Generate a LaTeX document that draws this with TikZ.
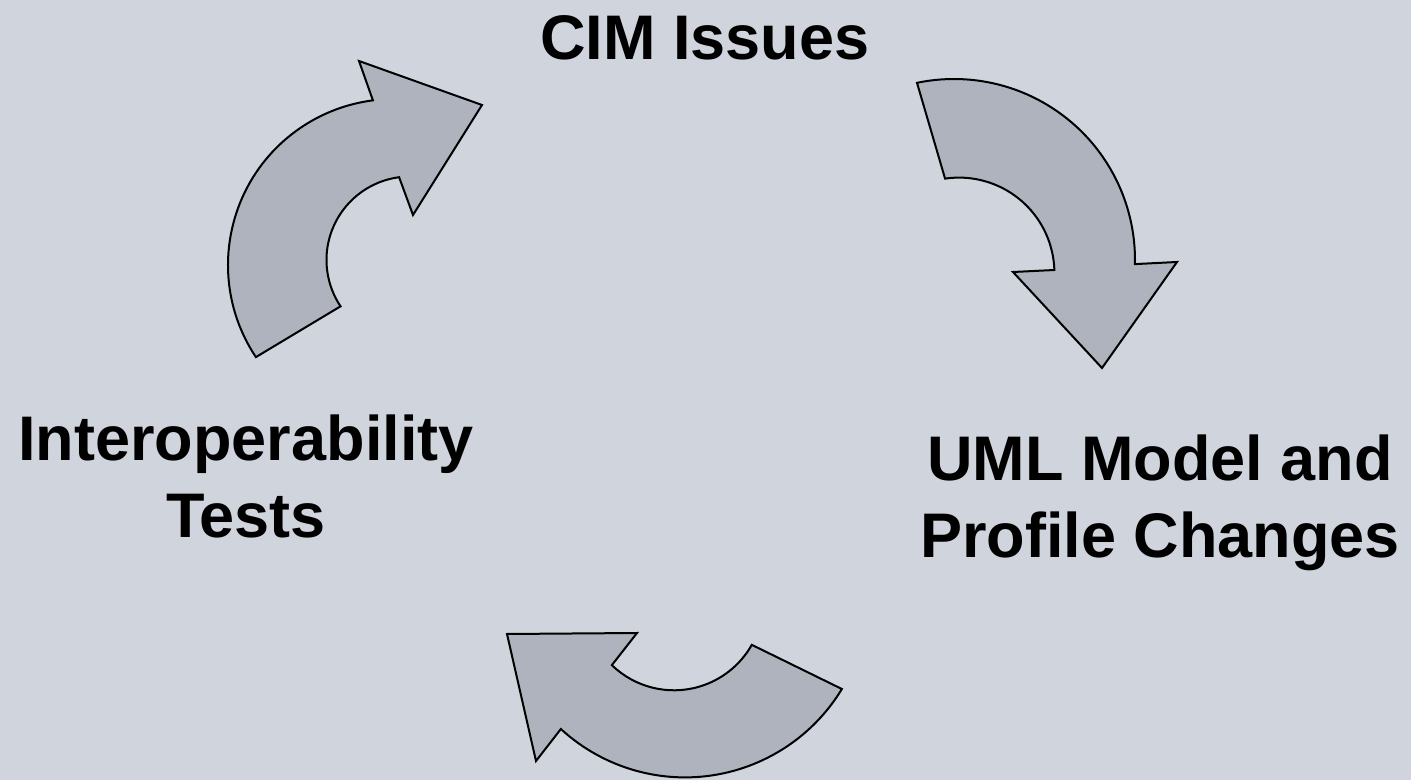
\documentclass[tikz,border=0pt]{standalone}
\usepackage{fontspec}
\setmainfont{Liberation Sans}
\usepackage{tikz}
\definecolor{slidebg}{RGB}{208,212,220}
\definecolor{arrowgray}{RGB}{175,179,189}

\begin{document}
\begin{tikzpicture}[
                x=1pt, y=1pt,
                stage/.style={font=\bfseries\fontsize{63}{77}\selectfont, align=center, inner sep=0pt, anchor=base}, % Bold stage labels
                turn/.style={draw, line width=2pt, fill=arrowgray, line join=miter} % Curved block arrows
                ]
                \fill[slidebg] (0,0) rectangle (1411,780);
                \useasboundingbox (0,0) rectangle (1411,780);

                \node[stage] (issues) at (705,720) {CIM Issues};
                \node[stage] (changes) at (1160,223) {UML Model and\\Profile Changes};
                \node[stage] (tests) at (246,243) {Interoperability\\Tests};

                % tests -> issues
                \draw[turn] ([shift={(213.7:166)}]394,515) arc[start angle=213.7, end angle=97.3, radius=166]
                    -- (359,719) -- (482,675) -- (413,565)
                    -- ([shift={(97.5:83.5)}]410,520) arc[start angle=97.5, end angle=213.7, radius=83.5] -- cycle;
                % issues -> changes
                \draw[turn] ([shift={(101.8:181)}]954,520) arc[start angle=101.8, end angle=-1.3, radius=181]
                    -- (1177,518) -- (1102,412) -- (1013,508)
                    -- ([shift={(1.8:95.4)}]959,507) arc[start angle=1.8, end angle=98.4, radius=95.4] -- cycle;
                % changes -> tests
                \draw[turn] ([shift={(-31.2:183.4)}]685,186) arc[start angle=-31.2, end angle=-132.6, radius=183.4]
                    -- (536,19) -- (507,146) -- (637,147)
                    -- ([shift={(-134.1:89.3)}]674,179) arc[start angle=-134.1, end angle=-29.4, radius=89.3] -- cycle;
            \end{tikzpicture}
\end{document}
